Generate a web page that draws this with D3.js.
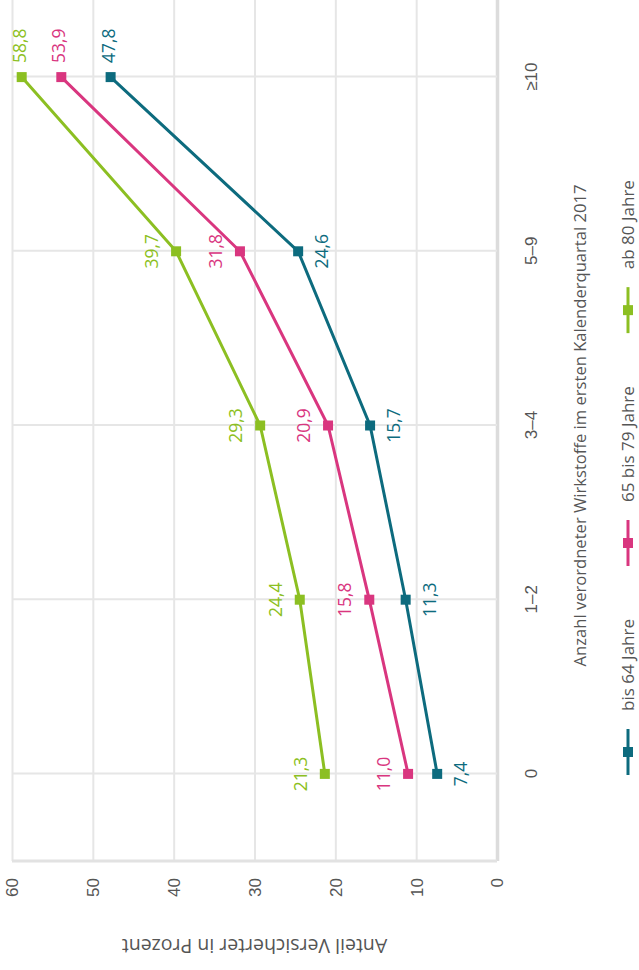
<!DOCTYPE html>
<html>
<head>
<meta charset="utf-8">
<script src="https://cdn.jsdelivr.net/npm/d3@7"></script>
<style>
  body { margin: 0; background: #fff; }
  svg { display: block; font-family: "Open Sans", sans-serif; }
</style>
</head>
<body>
<svg id="chart" width="639" height="970"></svg>
<script>
// data
const categories = ["0", "1–2", "3–4", "5–9", "≥10"];
const seriesNames = ["bis 64 Jahre", "65 bis 79 Jahre", "ab 80 Jahre"];
const bis64 = [7.4, 11.3, 15.7, 24.6, 47.8];
const von65bis79 = [11.0, 15.8, 20.9, 31.8, 53.9];
const ab80 = [21.3, 24.4, 29.3, 39.7, 58.8];
const yTicks = [0, 10, 20, 30, 40, 50, 60];
const colors = ["#0d6b7e", "#d9367f", "#8cbf22"];
// label above (-1) or below (+1) the point
const labelSide = [1, -1, -1];

const series = [bis64, von65bis79, ab80].map((values, i) => ({
  name: seriesNames[i],
  color: colors[i],
  side: labelSide[i],
  values: values.map((v, j) => ({ cat: categories[j], value: v }))
}));

// the chart is drawn "upright" in a 970 x 639 box and then turned -90deg
const W = 970;
const svg = d3.select("#chart");
const g = svg.append("g").attr("transform", `translate(0,${W}) rotate(-90)`);

const plotLeft = 109, plotRight = 980, plotTop = 12, plotBottom = 497;

const x = d3.scalePoint().domain(categories).range([plotLeft, plotRight]).padding(0.5);
const y = d3.scaleLinear().domain([0, 60]).range([plotBottom, plotTop]);

const fmt = v => d3.format(".1f")(v).replace(".", ",");

// value axis with grid
const yAxis = g.append("g")
  .attr("transform", `translate(${plotLeft},0)`)
  .call(d3.axisLeft(y).tickValues(yTicks).tickSize(-(plotRight - plotLeft)).tickPadding(17));
yAxis.select(".domain").remove();
yAxis.selectAll(".tick line")
  .attr("stroke", d => d === 0 ? "#dcdcdc" : "#e6e6e6")
  .attr("stroke-width", d => d === 0 ? 3.5 : 2);
yAxis.selectAll(".tick text")
  .attr("fill", "#555")
  .attr("font-size", 17)
  .attr("dy", "0.35em");

// category axis with grid
const xAxis = g.append("g")
  .attr("transform", `translate(0,${plotBottom})`)
  .call(d3.axisBottom(x).tickSize(-(plotBottom - plotTop)).tickPadding(0));
xAxis.select(".domain").remove();
xAxis.selectAll(".tick line").attr("stroke", "#e6e6e6").attr("stroke-width", 2);
xAxis.selectAll(".tick text")
  .attr("fill", "#555")
  .attr("font-size", 17)
  .attr("y", 34)
  .attr("dy", "0.35em");

// left frame line
g.append("line")
  .attr("x1", plotLeft).attr("x2", plotLeft)
  .attr("y1", plotTop).attr("y2", plotBottom)
  .attr("stroke", "#e2e2e2").attr("stroke-width", 3);

// axis titles
g.append("text")
  .attr("transform", `translate(24,${(plotTop + plotBottom) / 2}) rotate(-90)`)
  .attr("text-anchor", "middle")
  .attr("dy", "0.35em")
  .attr("fill", "#555")
  .attr("font-size", 19.5)
  .text("Anteil Versicherter in Prozent");

g.append("text")
  .attr("x", x("3–4"))
  .attr("y", 580)
  .attr("text-anchor", "middle")
  .attr("dy", "0.35em")
  .attr("fill", "#555")
  .attr("font-size", 16.6)
  .text("Anzahl verordneter Wirkstoffe im ersten Kalenderquartal 2017");

// lines
const line = d3.line().x(d => x(d.cat)).y(d => y(d.value));

const s = g.selectAll(".series")
  .data(series)
  .enter()
  .append("g")
  .attr("class", "series");

s.append("path")
  .attr("d", d => line(d.values))
  .attr("fill", "none")
  .attr("stroke", d => d.color)
  .attr("stroke-width", 3);

s.selectAll("rect")
  .data(d => d.values.map(v => ({ ...v, color: d.color })))
  .enter()
  .append("rect")
  .attr("x", d => x(d.cat) - 5)
  .attr("y", d => y(d.value) - 5)
  .attr("width", 10)
  .attr("height", 10)
  .attr("fill", d => d.color);

// value labels
s.selectAll(".lbl")
  .data(d => d.values.map(v => ({ ...v, color: d.color, side: d.side })))
  .enter()
  .append("text")
  .attr("class", "lbl")
  .attr("x", d => d.cat === "≥10" ? x(d.cat) + 14 : x(d.cat))
  .attr("y", d => d.cat === "≥10" ? y(d.value) - 2 : y(d.value) + d.side * 24)
  .attr("text-anchor", d => d.cat === "≥10" ? "start" : "middle")
  .attr("dy", "0.35em")
  .attr("fill", d => d.color)
  .attr("font-size", 17.5)
  .text(d => fmt(d.value));

// legend
const legend = g.append("g").attr("transform", "translate(195,628)");
let lx = 0;
series.forEach(d => {
  const item = legend.append("g").attr("transform", `translate(${lx},0)`);
  item.append("line")
    .attr("x1", 0).attr("x2", 46)
    .attr("stroke", d.color).attr("stroke-width", 3);
  item.append("rect")
    .attr("x", 18).attr("y", -5).attr("width", 10).attr("height", 10)
    .attr("fill", d.color);
  const t = item.append("text")
    .attr("x", 64)
    .attr("dy", "0.35em")
    .attr("fill", "#555")
    .attr("font-size", 17)
    .text(d.name);
  lx += 64 + t.node().getComputedTextLength() + 53;
});
</script>
</body>
</html>
